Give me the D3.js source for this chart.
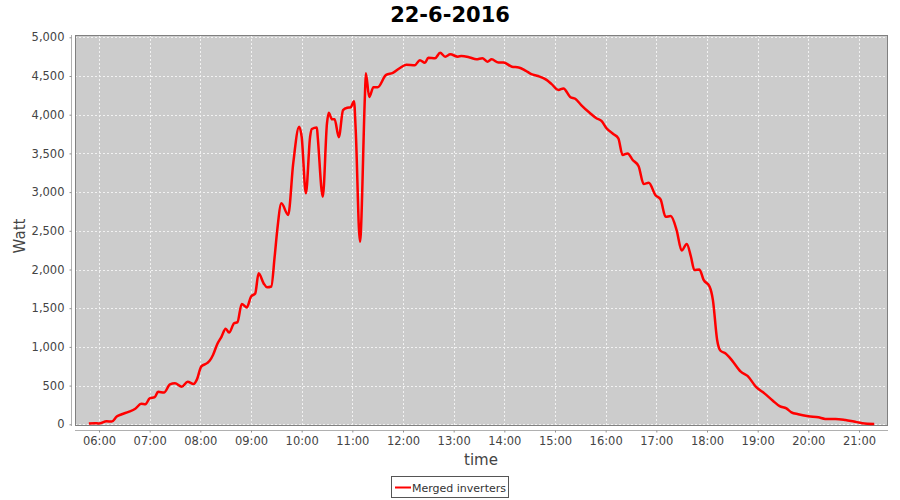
<!DOCTYPE html>
<html>
<head>
<meta charset="utf-8">
<script src="https://cdn.jsdelivr.net/npm/d3@7"></script>
<style>
  body { margin: 0; background: #fff; }
  text { font-family: "DejaVu Sans", sans-serif; }
</style>
</head>
<body>
<div id="svg_container"></div>
<script>
// Data (time of day, merged power in watt)
var times = ["05:48","05:55","06:00","06:09","06:15","06:21","06:27","06:35","06:43","06:50","06:55",
  "07:00","07:06","07:10","07:17","07:24","07:30","07:38","07:45","07:52","07:56",
  "08:01","08:08","08:11","08:15","08:20","08:25","08:30","08:34","08:40","08:44","08:49","08:55",
  "09:00","09:05","09:09","09:15","09:19","09:24","09:28","09:31","09:36","09:44","09:50","09:57",
  "10:00","10:05","10:10","10:12","10:18","10:19","10:25","10:30","10:32","10:36","10:39","10:44","10:49","10:54","10:58",
  "11:02","11:04","11:09","11:15","11:16","11:20","11:25","11:30","11:40","11:48","11:56",
  "12:04","12:14","12:20","12:26","12:30","12:38","12:44","12:50","12:56",
  "13:05","13:09","13:19","13:27","13:34","13:40","13:45","13:53","13:59",
  "14:09","14:17","14:25","14:32","14:40","14:50","14:56",
  "15:04","15:10","15:18","15:24","15:31","15:41","15:49","15:55",
  "16:01","16:09","16:15","16:20","16:26","16:32","16:39","16:45","16:51","16:59",
  "17:05","17:11","17:17","17:24","17:30","17:36","17:41","17:45","17:51","17:56",
  "18:03","18:07","18:12","18:16","18:22","18:30","18:40","18:48","18:58",
  "19:08","19:18","19:26","19:34","19:40","19:48",
  "20:00","20:12","20:20","20:32","20:44","20:54","21:04","21:18"];
var watts = [10,15,10,40,35,100,130,160,200,265,260,
  335,350,420,410,515,530,485,550,520,580,
  745,790,820,895,1035,1130,1235,1185,1305,1320,1555,1510,
  1650,1690,1950,1820,1770,1780,2165,2500,2855,2705,3370,3845,
  3715,2985,3715,3815,3835,3715,2940,3890,4025,3940,3940,3710,4060,4090,4095,
  4175,3800,2360,4275,4535,4230,4355,4355,4515,4540,4600,
  4645,4640,4705,4670,4735,4730,4800,4750,4780,
  4750,4760,4740,4715,4730,4685,4715,4675,4675,
  4620,4610,4570,4525,4500,4450,4395,
  4320,4340,4230,4205,4125,4025,3955,3920,
  3825,3750,3695,3480,3500,3415,3335,3105,3120,2960,
  2905,2680,2690,2510,2245,2330,2165,1995,2000,1865,
  1780,1605,1090,950,915,820,680,625,485,
  400,305,235,205,155,130,
  105,90,70,70,55,35,15,5];
var yTicks = [0,500,1000,1500,2000,2500,3000,3500,4000,4500,5000];
var xTicks = ["06:00","07:00","08:00","09:00","10:00","11:00","12:00","13:00","14:00",
  "15:00","16:00","17:00","18:00","19:00","20:00","21:00"];

var parseTime = d3.timeParse("%H:%M");
var data = times.map(function(t, i) { return {t: parseTime(t), w: watts[i]}; });

// Plot area
var plot = {left: 75, right: 888, top: 35, bottom: 426};

var svg = d3.select("#svg_container")
    .append("svg")
    .attr("width", 900)
    .attr("height", 500);

var x = d3.scaleTime()
    .domain([d3.timeParse("%H:%M:%S")("05:31:35"), d3.timeParse("%H:%M:%S")("21:34:20")])
    .range([plot.left, plot.right]);

var y = d3.scaleLinear()
    .domain([0, 5000])
    .range([424.3, 37.3]);

// Title
svg.append("text")
    .attr("x", 450)
    .attr("y", 22)
    .attr("text-anchor", "middle")
    .style("font-size", "21px")
    .style("font-weight", "bold")
    .text("22-6-2016");

// Background + grid
svg.append("rect")
    .attr("x", plot.left)
    .attr("y", plot.top)
    .attr("width", plot.right - plot.left)
    .attr("height", plot.bottom - plot.top)
    .attr("fill", "#cccccc");

var grid = svg.append("g");
grid.selectAll(".vgrid").data(xTicks).enter()
    .append("line")
    .attr("x1", function(d) { return Math.round(x(parseTime(d))) + 0.5; })
    .attr("x2", function(d) { return Math.round(x(parseTime(d))) + 0.5; })
    .attr("y1", plot.top)
    .attr("y2", plot.bottom)
    .attr("stroke", "#f2f2f2")
    .attr("stroke-dasharray", "2,2");
grid.selectAll(".hgrid").data(yTicks).enter()
    .append("line")
    .attr("x1", plot.left)
    .attr("x2", plot.right)
    .attr("y1", function(d) { return Math.round(y(d)) + 0.5; })
    .attr("y2", function(d) { return Math.round(y(d)) + 0.5; })
    .attr("stroke", "#f2f2f2")
    .attr("stroke-dasharray", "2,2");

// Plot border
svg.append("rect")
    .attr("x", plot.left + 0.5)
    .attr("y", plot.top + 0.5)
    .attr("width", plot.right - plot.left - 1)
    .attr("height", plot.bottom - plot.top - 1)
    .attr("fill", "none")
    .attr("stroke", "#808080");

// Series line
var line = d3.line()
    .x(function(d) { return x(d.t); })
    .y(function(d) { return y(d.w); })
    .curve(d3.curveMonotoneX);

svg.append("path")
    .datum(data)
    .attr("fill", "none")
    .attr("stroke", "#ff0000")
    .attr("stroke-width", 2.5)
    .attr("stroke-linejoin", "round")
    .attr("d", line);

// Y axis
var yAxis = svg.append("g")
    .attr("transform", "translate(71.5,0)")
    .call(d3.axisLeft(y).tickValues(yTicks).tickFormat(d3.format(",")).tickSize(2).tickPadding(5).tickSizeOuter(0));
yAxis.select(".domain").attr("stroke", "#b0b0b0").attr("d", "M0," + plot.top + "V" + plot.bottom);

// X axis
var xAxis = svg.append("g")
    .attr("transform", "translate(0,430.5)")
    .call(d3.axisBottom(x).tickValues(xTicks.map(parseTime)).tickFormat(d3.timeFormat("%H:%M")).tickSize(2).tickPadding(4).tickSizeOuter(0));
xAxis.select(".domain").attr("stroke", "#b0b0b0").attr("d", "M" + plot.left + ",0H" + plot.right);

svg.selectAll(".tick line").attr("stroke", "#909090");
svg.selectAll(".tick text")
    .style("font-size", "11.5px")
    .style("font-family", "'DejaVu Sans', sans-serif")
    .attr("fill", "#444");

// Axis labels
svg.append("text")
    .attr("transform", "translate(25,236) rotate(-90)")
    .attr("text-anchor", "middle")
    .style("font-size", "15px")
    .attr("fill", "#444")
    .text("Watt");

svg.append("text")
    .attr("x", 481)
    .attr("y", 465)
    .attr("text-anchor", "middle")
    .style("font-size", "15px")
    .attr("fill", "#444")
    .text("time");

// Legend
var legend = svg.append("g");
legend.append("rect")
    .attr("x", 391.5)
    .attr("y", 476.5)
    .attr("width", 117)
    .attr("height", 21)
    .attr("fill", "#fff")
    .attr("stroke", "#555");
legend.append("line")
    .attr("x1", 395)
    .attr("x2", 411)
    .attr("y1", 487.5)
    .attr("y2", 487.5)
    .attr("stroke", "#ff0000")
    .attr("stroke-width", 2);
legend.append("text")
    .attr("x", 412)
    .attr("y", 491.5)
    .style("font-size", "11px")
    .attr("fill", "#333")
    .text("Merged inverters");
</script>
</body>
</html>
